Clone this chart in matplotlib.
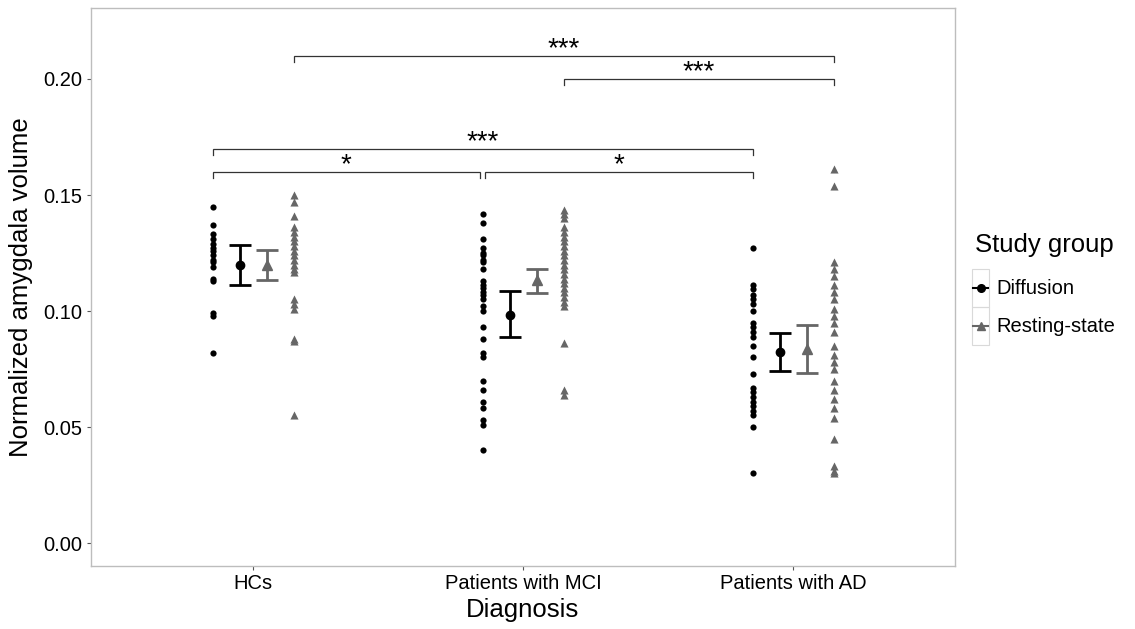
import matplotlib
matplotlib.use("Agg")
import matplotlib.pyplot as plt
from matplotlib.patches import Rectangle
from matplotlib.lines import Line2D

plt.rcParams['font.family'] = ['Liberation Sans', 'DejaVu Sans']

# ---- data ----
categories = ["HCs", "Patients with MCI", "Patients with AD"]
groups = ["Diffusion", "Resting-state"]

hc_diff = [0.145, 0.137, 0.133, 0.131, 0.129, 0.127, 0.126, 0.124, 0.122, 0.121,
           0.119, 0.114, 0.113, 0.099, 0.098, 0.082]
hc_rest = [0.150, 0.147, 0.141, 0.136, 0.134, 0.132, 0.130, 0.128, 0.126, 0.124,
           0.122, 0.120, 0.118, 0.117, 0.105, 0.103, 0.101, 0.088, 0.087, 0.055]
mci_diff = [0.142, 0.138, 0.131, 0.127, 0.125, 0.124, 0.122, 0.121, 0.118, 0.113,
            0.111, 0.110, 0.108, 0.107, 0.105, 0.102, 0.100, 0.093, 0.088, 0.082,
            0.080, 0.070, 0.066, 0.061, 0.058, 0.053, 0.051, 0.040]
mci_rest = [0.1435, 0.142, 0.140, 0.136, 0.134, 0.132, 0.130, 0.128, 0.126, 0.124,
            0.122, 0.120, 0.118, 0.116, 0.114, 0.112, 0.110, 0.108, 0.106, 0.104,
            0.102, 0.086, 0.066, 0.064]
ad_diff = [0.127, 0.111, 0.1095, 0.107, 0.105, 0.103, 0.100, 0.095, 0.093, 0.091,
           0.089, 0.085, 0.080, 0.073, 0.067, 0.065, 0.063, 0.061, 0.059, 0.057,
           0.055, 0.050, 0.030]
ad_rest = [0.161, 0.154, 0.121, 0.118, 0.115, 0.111, 0.108, 0.105, 0.101, 0.098,
           0.095, 0.091, 0.085, 0.081, 0.078, 0.075, 0.070, 0.066, 0.062, 0.058,
           0.054, 0.045, 0.033, 0.031, 0.030]

diff_mean = [0.1198, 0.0984, 0.0822]
diff_lo = [0.1112, 0.0887, 0.0743]
diff_hi = [0.1284, 0.1088, 0.0904]
rest_mean = [0.1198, 0.1134, 0.0836]
rest_lo = [0.1134, 0.1079, 0.0731]
rest_hi = [0.1263, 0.1181, 0.0938]

# significance brackets: (x start, x end, y, label)
sig_x1 = [1.15, 2.15, 0.85, 0.85, 1.86]
sig_x2 = [3.15, 3.15, 2.85, 1.84, 2.85]
sig_y = [0.210, 0.200, 0.170, 0.160, 0.160]
sig_lab = ["***", "***", "***", "*", "*"]

yticks = [0.00, 0.05, 0.10, 0.15, 0.20]
ytick_labels = ["0.00", "0.05", "0.10", "0.15", "0.20"]

# ---- figure ----
W, H = 1135, 629
fig = plt.figure(figsize=(W / 100, H / 100), dpi=100)
ax = fig.add_axes([91 / W, (H - 566) / H, 864 / W, 558 / H])

col_d = "#000000"
col_r = "#666666"

diff_pts = [hc_diff, mci_diff, ad_diff]
rest_pts = [hc_rest, mci_rest, ad_rest]

for i in range(3):
    xc = i + 1
    ax.scatter([xc - 0.15] * len(diff_pts[i]), diff_pts[i], s=20, marker='o',
               color=col_d, linewidths=0, zorder=3)
    ax.scatter([xc + 0.15] * len(rest_pts[i]), rest_pts[i], s=34, marker='^',
               color=col_r, linewidths=0, zorder=3)
    ax.errorbar([xc - 0.05], [diff_mean[i]],
                yerr=[[diff_mean[i] - diff_lo[i]], [diff_hi[i] - diff_mean[i]]],
                fmt='o', color=col_d, ms=6, elinewidth=2.0, capsize=8,
                capthick=2.0, zorder=4)
    ax.errorbar([xc + 0.05], [rest_mean[i]],
                yerr=[[rest_mean[i] - rest_lo[i]], [rest_hi[i] - rest_mean[i]]],
                fmt='^', color=col_r, ms=7, elinewidth=2.0, capsize=8,
                capthick=2.0, zorder=4)

tip = 0.0027
for x1, x2, y, lab in zip(sig_x1, sig_x2, sig_y, sig_lab):
    ax.plot([x1, x1, x2, x2], [y - tip, y, y, y - tip], color="#333333", lw=0.9,
            solid_joinstyle='miter')
    ax.text((x1 + x2) / 2, y - 0.0003, lab, ha='center', va='baseline',
            fontsize=20, color='black')

ax.set_xlim(0.4, 3.6)
ax.set_ylim(-0.0099, 0.2306)
ax.set_xticks([1, 2, 3])
ax.set_xticklabels(categories, fontsize=14.5, color='black')
ax.set_yticks(yticks)
ax.set_yticklabels(ytick_labels, fontsize=14.5, color='black')
ax.tick_params(axis='both', length=3, width=0.8, color='#555555', pad=3)
for sp in ax.spines.values():
    sp.set_color('#bdbdbd')
    sp.set_linewidth(1.0)
ax.set_xlabel("Diagnosis", fontsize=18.5, labelpad=3)
ax.set_ylabel("Normalized amygdala volume", fontsize=18.5, labelpad=8)

# ---- legend (manual, ggplot-like) ----
def fx(px):
    return px / W

def fy(py):
    return (H - py) / H

fig.text(fx(975), fy(245), "Study group", fontsize=18.5, ha='left', va='center')
key_top = [269, 307]
for k in range(2):
    fig.add_artist(Rectangle((fx(972), fy(key_top[k] + 38)), 17 / W, 38 / H,
                             transform=fig.transFigure, fill=False,
                             edgecolor='#d9d9d9', lw=0.8))
cy = [288, 326]
fig.add_artist(Line2D([fx(973), fx(988)], [fy(cy[0])] * 2, color=col_d, lw=1.5,
                      transform=fig.transFigure))
fig.add_artist(Line2D([fx(980.5)], [fy(cy[0])], marker='o', ms=5.5, color=col_d,
                      transform=fig.transFigure))
fig.add_artist(Line2D([fx(973), fx(988)], [fy(cy[1])] * 2, color=col_r, lw=1.5,
                      transform=fig.transFigure))
fig.add_artist(Line2D([fx(980.5)], [fy(cy[1])], marker='^', ms=6, color=col_r,
                      transform=fig.transFigure))
fig.text(fx(996), fy(cy[0]), groups[0], fontsize=14.5, ha='left', va='center')
fig.text(fx(996), fy(cy[1]), groups[1], fontsize=14.5, ha='left', va='center')

fig.savefig("out.png", dpi=100)
